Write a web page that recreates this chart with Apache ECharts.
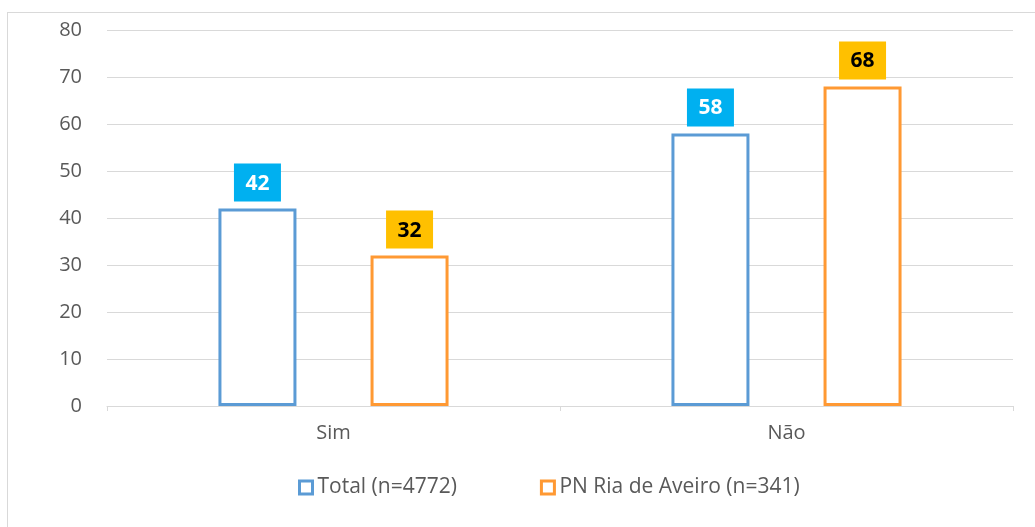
<!DOCTYPE html>
<html lang="pt">
<head>
<meta charset="UTF-8">
<title>Sim / Não</title>
<script src="https://cdn.jsdelivr.net/npm/echarts@6/dist/echarts.min.js"></script>
<style>
    html, body { margin: 0; padding: 0; background: #fff; }
    #frame {
        position: absolute;
        left: 7px; top: 12px;
        width: 1040px; height: 530px;
        border: 1px solid #D9D9D9;
        box-sizing: border-box;
    }
    #chart { position: absolute; left: 0; top: 0; width: 1035px; height: 527px; }
</style>
</head>
<body>
<div id="frame"></div>
<div id="chart"></div>
<script>
    const categories = ['Sim', 'Não'];
    const totalValues = [42, 58];
    const rianValues = [32, 68];
    const seriesNames = ['Total (n=4772)', 'PN Ria de Aveiro (n=341)'];

    const chart = echarts.init(document.getElementById('chart'));

    function makeLabel(bg, fg) {
        return {
            show: true,
            position: 'top',
            distance: 7,
            backgroundColor: bg,
            color: fg,
            fontFamily: 'Open Sans, sans-serif',
            fontWeight: 'bold',
            fontSize: 21,
            width: 29,
            align: 'center',
            padding: [8, 9, 6, 9],
            lineHeight: 24
        };
    }

    chart.setOption({
        animation: false,
        textStyle: { fontFamily: 'Open Sans, sans-serif' },
        grid: { left: 107, right: 22, top: 30, bottom: 121 },
        legend: {
            top: 472,
            left: 293,
            itemGap: 83,
            itemWidth: 13,
            itemHeight: 13,
            icon: 'rect',
            itemStyle: { borderWidth: 3 },
            textStyle: { color: '#595959', fontSize: 21, padding: [0, 0, 0, 0] },
            data: seriesNames
        },
        xAxis: {
            type: 'category',
            data: categories,
            axisLine: { lineStyle: { color: '#D9D9D9' } },
            axisTick: { show: true, length: 5, lineStyle: { color: '#D9D9D9' } },
            axisLabel: { color: '#595959', fontSize: 20, margin: 17 }
        },
        yAxis: {
            type: 'value',
            min: 0, max: 80, interval: 10,
            axisLine: { show: false },
            axisTick: { show: false },
            splitLine: { lineStyle: { color: '#D9D9D9' } },
            axisLabel: { color: '#595959', fontSize: 20, margin: 25 }
        },
        series: [
            {
                name: seriesNames[0],
                type: 'bar',
                data: totalValues,
                barWidth: 78,
                barGap: '95%',
                itemStyle: { color: '#fff', borderColor: '#5B9BD5', borderWidth: 3 },
                label: makeLabel('#00B0F0', '#fff')
            },
            {
                name: seriesNames[1],
                type: 'bar',
                data: rianValues,
                barWidth: 78,
                itemStyle: { color: '#fff', borderColor: '#FF9933', borderWidth: 3 },
                label: makeLabel('#FFC000', '#000')
            }
        ]
    });
</script>
</body>
</html>
